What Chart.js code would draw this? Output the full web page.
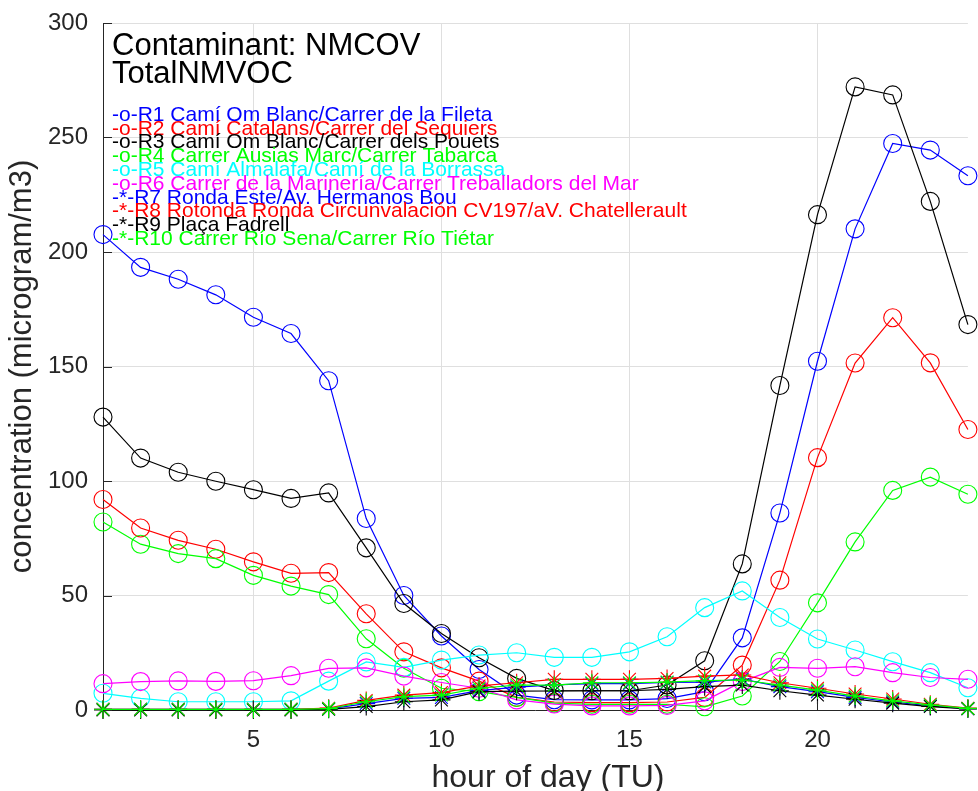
<!DOCTYPE html>
<html>
<head>
<meta charset="utf-8">
<script src="https://cdn.jsdelivr.net/npm/chart.js@4.4.1/dist/chart.umd.min.js"></script>
<style>
  html, body { margin: 0; padding: 0; background: #fff; }
</style>
</head>
<body>
<canvas id="nmcov" width="978" height="791"></canvas>
<script>
'use strict';

// hours of the day (x) and tick positions
var hours = [1, 2, 3, 4, 5, 6, 7, 8, 9, 10, 11, 12, 13, 14, 15, 16, 17, 18, 19, 20, 21, 22, 23, 24];
var xTicks = [5, 10, 15, 20];

// concentration per station (microgram/m3)
var r1 = [207.6, 193.3, 188.1, 181.3, 171.5, 164.4, 143.8, 83.6, 50.0, 32.3, 17.7, 6.5, 4.5, 4.4, 4.4, 5.0, 8.0, 31.5, 86.0, 152.3, 210.1, 247.4, 244.5, 233.3];
var r2 = [91.9, 79.5, 74.1, 70.2, 64.7, 59.7, 60.0, 42.0, 25.4, 18.4, 12.6, 5.5, 3.5, 3.2, 3.2, 3.5, 5.5, 19.6, 56.7, 110.2, 151.5, 171.3, 151.6, 122.5];
var r3 = [127.9, 110.0, 103.8, 99.9, 96.2, 92.4, 94.8, 70.8, 46.5, 33.4, 22.8, 13.8, 8.5, 8.4, 8.4, 10.9, 21.5, 63.8, 141.7, 216.3, 272.1, 268.6, 222.1, 168.3];
var r4 = [82.1, 72.4, 68.3, 66.1, 58.8, 54.1, 50.4, 31.1, 18.2, 9.5, 8.0, 5.5, 3.0, 2.5, 2.5, 2.5, 1.4, 6.1, 21.2, 46.8, 73.4, 95.9, 101.7, 94.2];
var r5 = [7.3, 5.1, 3.6, 3.6, 3.6, 4.0, 12.6, 21.0, 18.6, 21.8, 24.0, 25.0, 23.0, 23.0, 25.4, 32.0, 44.7, 52.0, 40.4, 31.0, 26.2, 21.1, 16.3, 9.7];
var r6 = [11.5, 12.4, 12.7, 12.5, 12.8, 15.0, 18.2, 18.4, 14.8, 12.0, 9.5, 4.4, 2.6, 1.8, 1.8, 2.0, 4.0, 12.4, 18.6, 18.2, 18.9, 16.3, 14.2, 13.4];
var r7 = [0.3, 0.3, 0.3, 0.3, 0.3, 0.3, 0.5, 2.8, 5.1, 5.5, 8.5, 10.0, 11.0, 11.5, 11.5, 12.0, 12.2, 13.5, 10.2, 8.0, 5.5, 3.5, 1.8, 0.6];
var r8 = [0.3, 0.3, 0.3, 0.3, 0.3, 0.3, 0.8, 4.2, 6.5, 7.6, 10.5, 11.9, 13.4, 13.4, 13.4, 13.8, 14.8, 15.3, 11.9, 9.5, 7.0, 4.8, 2.5, 0.8];
var r9 = [0.0, 0.0, 0.0, 0.0, 0.0, 0.0, 0.3, 1.5, 3.6, 4.4, 8.0, 8.2, 8.3, 8.4, 8.4, 9.0, 10.2, 10.9, 8.4, 6.5, 4.7, 3.0, 1.5, 0.5];
var r10 = [0.3, 0.3, 0.3, 0.3, 0.3, 0.3, 0.6, 3.6, 5.8, 6.5, 9.5, 10.9, 10.9, 11.9, 11.9, 12.2, 12.8, 13.1, 10.9, 8.7, 6.1, 4.0, 2.2, 0.7];

var stationNames = [
  '-o-R1 Camí Om Blanc/Carrer de la Fileta',
  '-o-R2 Camí Catalans/Carrer del Sequiers',
  '-o-R3 Camí Om Blanc/Carrer dels Pouets',
  '-o-R4 Carrer Ausias Marc/Carrer Tabarca',
  '-o-R5 Camí Almalafa/Camí de la Borrassa',
  '-o-R6 Carrer de la Marinería/Carrer Treballadors del Mar',
  '-*-R7 Ronda Este/Av. Hermanos Bou',
  '-*-R8 Rotonda Ronda Circunvalación CV197/aV. Chatellerault',
  '-*-R9 Plaça Fadrell',
  '-*-R10 Carrer Río Sena/Carrer Río Tiétar'
];
var titleLines = ['Contaminant: NMCOV', 'TotalNMVOC'];
var xTitle = 'hour of day (TU)';

var seriesValues = [r1, r2, r3, r4, r5, r6, r7, r8, r9, r10];
var colors = ['#0000ff', '#ff0000', '#000000', '#00ff00', '#00ffff', '#ff00ff', '#0000ff', '#ff0000', '#000000', '#00ff00'];
var markers = ['circle', 'circle', 'circle', 'circle', 'circle', 'circle', 'star', 'star', 'star', 'star'];

var FONT = '"Liberation Sans", Arial, Helvetica, sans-serif';
var AXIS_COLOR = '#262626';

var datasets = seriesValues.map(function(vals, i) {
  return {
    label: stationNames[i],
    data: vals,
    borderColor: colors[i],
    backgroundColor: 'rgba(0,0,0,0)',
    borderWidth: 1.2,
    pointStyle: markers[i],
    pointRadius: 9,
    pointBorderWidth: 1.1,
    pointBorderColor: colors[i],
    pointBackgroundColor: 'rgba(0,0,0,0)',
    tension: 0,
    clip: false,
    order: 9 - i
  };
});

// texts written inside the axes, x label, inward tick marks
var annotations = {
  id: 'annotations',
  afterDraw: function(chart) {
    var ctx = chart.ctx;
    var area = chart.chartArea;
    var xs = chart.scales.x, ys = chart.scales.y;
    ctx.save();
    ctx.strokeStyle = AXIS_COLOR;
    ctx.lineWidth = 1;
    ctx.beginPath();
    ys.ticks.forEach(function(t) {
      var py = Math.round(ys.getPixelForValue(t.value)) + 0.5;
      ctx.moveTo(area.left, py);
      ctx.lineTo(area.left + 9, py);
    });
    xTicks.forEach(function(v) {
      var px = Math.round(xs.getPixelForValue(v)) + 0.5;
      ctx.moveTo(px, area.bottom);
      ctx.lineTo(px, area.bottom - 9);
    });
    ctx.stroke();

    ctx.textBaseline = 'middle';
    ctx.textAlign = 'center';
    ctx.fillStyle = AXIS_COLOR;
    ctx.font = '32px ' + FONT;
    ctx.fillText(xTitle, 548, 778);

    ctx.textAlign = 'left';
    ctx.fillStyle = '#000';
    ctx.font = '31px ' + FONT;
    titleLines.forEach(function(s, i) {
      ctx.fillText(s, area.left + 9, 46 + i * 28);
    });
    ctx.font = '21px ' + FONT;
    stationNames.forEach(function(s, i) {
      ctx.fillStyle = colors[i];
      ctx.fillText(s, area.left + 9, 115 + i * 13.8);
    });
    ctx.restore();
  }
};

new Chart(document.getElementById('nmcov'), {
  type: 'line',
  data: { labels: hours, datasets: datasets },
  options: {
    responsive: false,
    animation: false,
    layout: { padding: { top: 23, right: 4, left: 0, bottom: 0 } },
    plugins: { legend: { display: false }, tooltip: { enabled: false } },
    scales: {
      x: {
        type: 'linear',
        min: 1,
        max: 24,
        afterBuildTicks: function(scale) {
          scale.ticks = xTicks.map(function(v) { return { value: v }; });
        },
        afterFit: function(scale) {
          scale.height = 81;
          scale.paddingLeft = 0;
          scale.paddingRight = 0;
        },
        grid: { color: '#dfdfdf', drawTicks: false },
        border: { display: true, color: AXIS_COLOR, width: 1 },
        ticks: { color: AXIS_COLOR, font: { family: FONT, size: 24 }, padding: 16, maxRotation: 0 }
      },
      y: {
        min: 0,
        max: 300,
        ticks: { stepSize: 50, color: AXIS_COLOR, font: { family: FONT, size: 24 }, padding: 15 },
        afterFit: function(scale) {
          scale.width = 103;
          scale.paddingTop = 0;
          scale.paddingBottom = 0;
        },
        grid: { color: '#dfdfdf', drawTicks: false },
        border: { display: true, color: AXIS_COLOR, width: 1 },
        title: {
          display: true,
          text: 'concentration (microgram/m3)',
          color: AXIS_COLOR,
          font: { family: FONT, size: 31, lineHeight: 1 },
          padding: { top: 7, bottom: 0 }
        }
      }
    }
  },
  plugins: [annotations]
});
</script>
</body>
</html>
